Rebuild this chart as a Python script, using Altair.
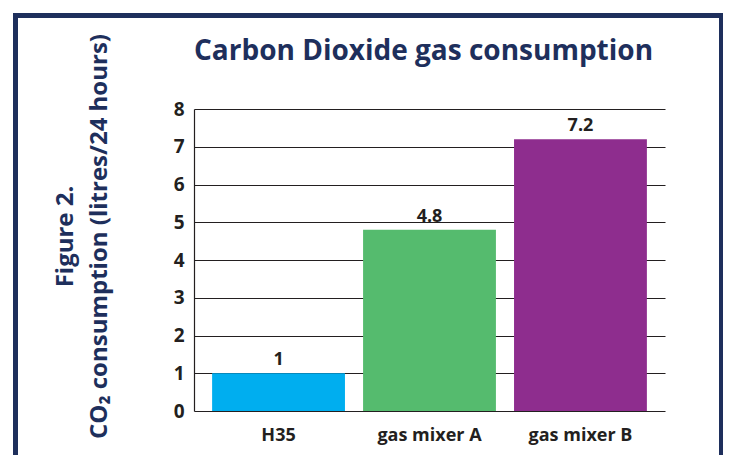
import altair as alt
import pandas as pd

categories = ["H35", "gas mixer A", "gas mixer B"]
values = [1, 4.8, 7.2]
labels = ["1", "4.8", "7.2"]
colors = ["#00aeef", "#55bb6e", "#8e2d8e"]
y_ticks = [0, 1, 2, 3, 4, 5, 6, 7, 8]
chart_title = ["Carbon Dioxide gas consumption"]

NAVY = "#1e2f5c"
INK = "#231f20"
FONT = "Open Sans"

df = pd.DataFrame({"device": categories, "value": values, "label": labels})

x_enc = alt.X(
    "device:N",
    sort=categories,
    scale=alt.Scale(paddingInner=0.12, paddingOuter=0.12),
    axis=alt.Axis(
        title=None, labelAngle=0, ticks=False, domain=False,
        labelFont=FONT, labelFontSize=18, labelFontWeight="bold",
        labelColor=INK, labelPadding=15,
    ),
)
y_enc = alt.Y(
    "value:Q",
    scale=alt.Scale(domain=[0, 8], nice=False),
    axis=alt.Axis(
        values=y_ticks, tickCount=9, labelOverlap=False,
        grid=True, gridColor=INK, gridWidth=1.2, gridOpacity=1,
        ticks=False, domain=True, domainColor=INK, domainWidth=1.2,
        labelFont=FONT, labelFontSize=19, labelFontWeight="bold",
        labelColor=INK, labelPadding=10,
        title=["Figure 2.", "CO\u2082 consumption (litres/24 hours)"],
        titleFont=FONT, titleFontSize=24, titleFontWeight="bold",
        titleColor=NAVY, titleAngle=-90, titleAlign="center",
        titleBaseline="bottom", titleX=-117, titleY=127, titleLineHeight=34,
    ),
)

base = alt.Chart(df)

bars = base.mark_bar().encode(
    x=x_enc,
    y=y_enc,
    color=alt.Color("device:N", scale=alt.Scale(domain=categories, range=colors), legend=None),
)

text = base.mark_text(
    font=FONT, fontSize=18, fontWeight="bold", color=INK, baseline="bottom", dy=-4
).encode(
    x=x_enc,
    y=y_enc,
    text="label:N",
)

title = alt.Chart(pd.DataFrame({"t": chart_title})).mark_text(
    font=FONT, fontSize=28, fontWeight="bold", color=NAVY,
    align="center", baseline="alphabetic",
).encode(
    x=alt.value(229.5), y=alt.value(-49), text="t:N",
)

frame = alt.Chart(pd.DataFrame({"f": [0]})).mark_rect(
    fill=None, stroke=NAVY, strokeWidth=5
).encode(
    x=alt.value(-178.5), x2=alt.value(527.5),
    y=alt.value(-93.5), y2=alt.value(400),
)

chart = alt.layer(bars, text, title, frame).properties(
    width=471,
    height=302,
    padding={"left": 186, "top": 101, "right": 58, "bottom": 44},
    autosize=alt.AutoSizeParams(type="none"),
).configure_view(stroke=None)

chart.save("out.html", embed_options={"renderer": "svg", "actions": False})
